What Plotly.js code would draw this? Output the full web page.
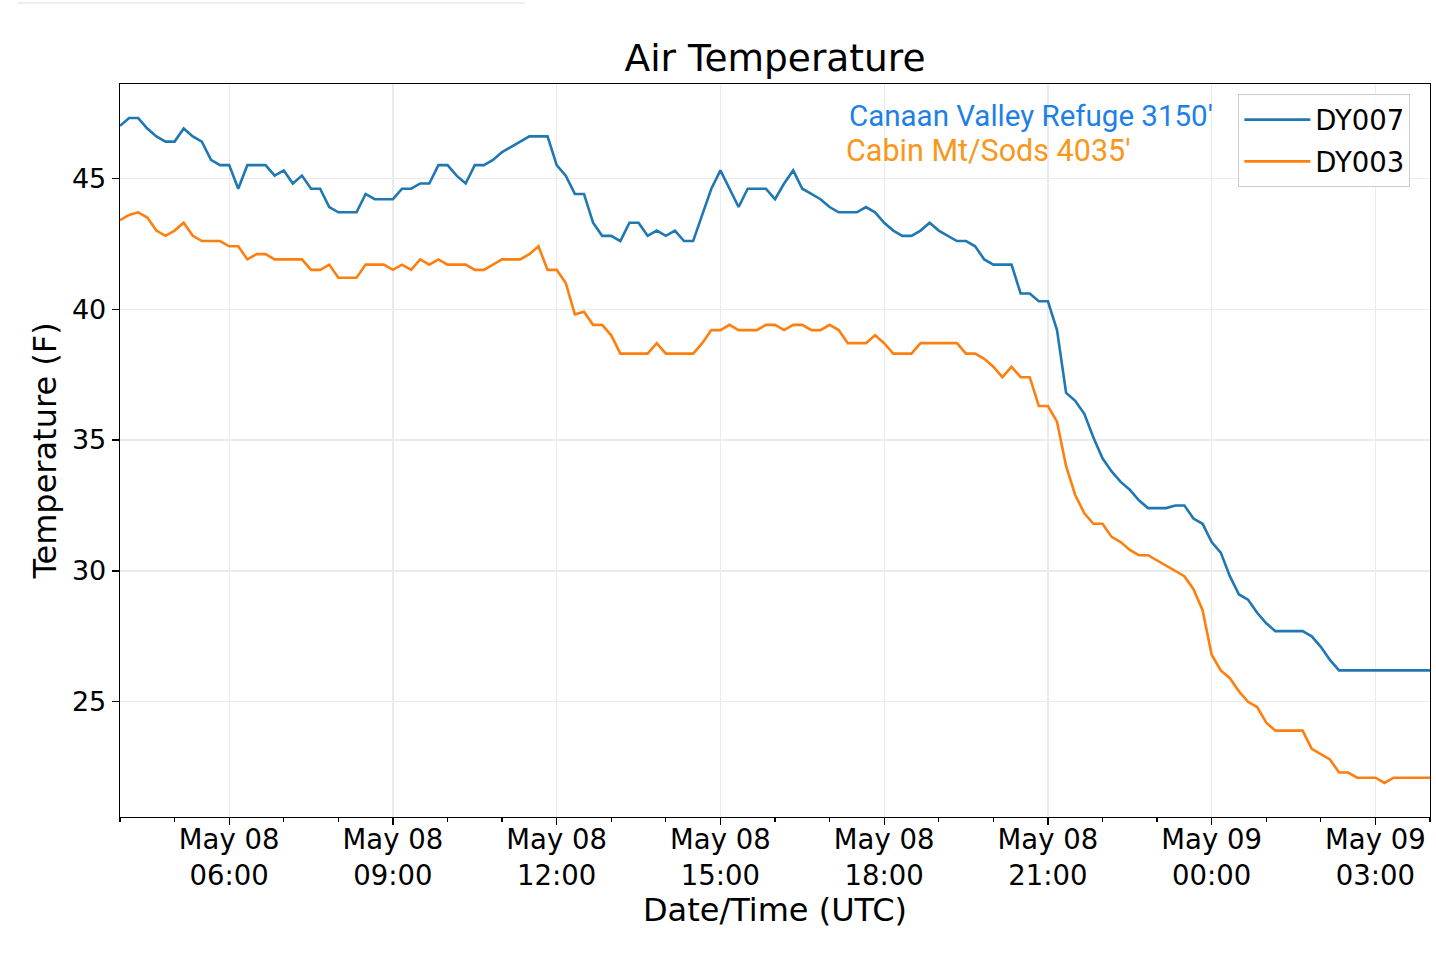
<!DOCTYPE html>
<html>
<head>
<meta charset="utf-8">
<script src="https://cdn.plot.ly/plotly-3.0.1.min.js"></script>
<style>
  html, body { margin: 0; padding: 0; background: #fff; }
  #graph { width: 1436px; height: 954px; }
</style>
</head>
<body>
<div id="graph"></div>
<script>
// 10-minute readings, 04:00 May 08 to 04:00 May 09 (UTC)
const startTime = '2020-05-08T04:00:00Z';
const stepMinutes = 10;

// DY007 - Canaan Valley Refuge 3150'
const dy007 = [
  47.0, 47.3, 47.3, 46.9, 46.6, 46.4, 46.4, 46.9, 46.6, 46.4, 45.7, 45.5,
  45.5, 44.6, 45.5, 45.5, 45.5, 45.1, 45.3, 44.8, 45.1, 44.6, 44.6, 43.9,
  43.7, 43.7, 43.7, 44.4, 44.2, 44.2, 44.2, 44.6, 44.6, 44.8, 44.8, 45.5,
  45.5, 45.1, 44.8, 45.5, 45.5, 45.7, 46.0, 46.2, 46.4, 46.6, 46.6, 46.6,
  45.5, 45.1, 44.4, 44.4, 43.3, 42.8, 42.8, 42.6, 43.3, 43.3, 42.8, 43.0,
  42.8, 43.0, 42.6, 42.6, 43.6, 44.6, 45.3, 44.6, 43.9, 44.6, 44.6, 44.6,
  44.2, 44.8, 45.3, 44.6, 44.4, 44.2, 43.9, 43.7, 43.7, 43.7, 43.9, 43.7,
  43.3, 43.0, 42.8, 42.8, 43.0, 43.3, 43.0, 42.8, 42.6, 42.6, 42.4, 41.9,
  41.7, 41.7, 41.7, 40.6, 40.6, 40.3, 40.3, 39.2, 36.8, 36.5, 36.0, 35.1,
  34.3, 33.8, 33.4, 33.1, 32.7, 32.4, 32.4, 32.4, 32.5, 32.5, 32.0, 31.8,
  31.1, 30.7, 29.8, 29.1, 28.9, 28.4, 28.0, 27.7, 27.7, 27.7, 27.7, 27.5,
  27.1, 26.6, 26.2, 26.2, 26.2, 26.2, 26.2, 26.2, 26.2, 26.2, 26.2, 26.2,
  26.2
];

// DY003 - Cabin Mt/Sods 4035'
const dy003 = [
  43.4, 43.6, 43.7, 43.5, 43.0, 42.8, 43.0, 43.3, 42.8, 42.6, 42.6, 42.6,
  42.4, 42.4, 41.9, 42.1, 42.1, 41.9, 41.9, 41.9, 41.9, 41.5, 41.5, 41.7,
  41.2, 41.2, 41.2, 41.7, 41.7, 41.7, 41.5, 41.7, 41.5, 41.9, 41.7, 41.9,
  41.7, 41.7, 41.7, 41.5, 41.5, 41.7, 41.9, 41.9, 41.9, 42.1, 42.4, 41.5,
  41.5, 41.0, 39.8, 39.9, 39.4, 39.4, 39.0, 38.3, 38.3, 38.3, 38.3, 38.7,
  38.3, 38.3, 38.3, 38.3, 38.7, 39.2, 39.2, 39.4, 39.2, 39.2, 39.2, 39.4,
  39.4, 39.2, 39.4, 39.4, 39.2, 39.2, 39.4, 39.2, 38.7, 38.7, 38.7, 39.0,
  38.7, 38.3, 38.3, 38.3, 38.7, 38.7, 38.7, 38.7, 38.7, 38.3, 38.3, 38.1,
  37.8, 37.4, 37.8, 37.4, 37.4, 36.3, 36.3, 35.7, 34.0, 32.9, 32.2, 31.8,
  31.8, 31.3, 31.1, 30.8, 30.6, 30.6, 30.4, 30.2, 30.0, 29.8, 29.3, 28.5,
  26.8, 26.2, 25.9, 25.4, 25.0, 24.8, 24.2, 23.9, 23.9, 23.9, 23.9, 23.2,
  23.0, 22.8, 22.3, 22.3, 22.1, 22.1, 22.1, 21.9, 22.1, 22.1, 22.1, 22.1,
  22.1
];

const xRange = ['2020-05-08 04:00', '2020-05-09 04:00'];
const tickTimes = [
  '2020-05-08 06:00', '2020-05-08 09:00', '2020-05-08 12:00', '2020-05-08 15:00',
  '2020-05-08 18:00', '2020-05-08 21:00', '2020-05-09 00:00', '2020-05-09 03:00'
];
const tickLabels = [
  'May 08<br>06:00', 'May 08<br>09:00', 'May 08<br>12:00', 'May 08<br>15:00',
  'May 08<br>18:00', 'May 08<br>21:00', 'May 09<br>00:00', 'May 09<br>03:00'
];
const yTicks = [25, 30, 35, 40, 45];

const pad = (n) => String(n).padStart(2, '0');
const t0 = Date.parse(startTime);
const times = dy007.map((_, i) => {
  const d = new Date(t0 + i * stepMinutes * 60000);
  return `${d.getUTCFullYear()}-${pad(d.getUTCMonth() + 1)}-${pad(d.getUTCDate())} ` +
    `${pad(d.getUTCHours())}:${pad(d.getUTCMinutes())}`;
});

const data = [
  {
    x: times,
    y: dy007,
    name: 'DY007',
    legendgroup: 'a',
    mode: 'lines',
    line: { color: '#1f77b4', width: 2.6 },
  },
  {
    x: times,
    y: dy003,
    name: 'DY003',
    legendgroup: 'b',
    mode: 'lines',
    line: { color: '#ff7f0e', width: 2.6 },
  },
];

const axisCommon = {
  ticks: 'outside',
  ticklen: 7,
  tickwidth: 1.2,
  tickcolor: '#000',
  showgrid: true,
  gridcolor: '#ebebeb',
  gridwidth: 1.2,
  showline: true,
  linecolor: '#000',
  linewidth: 1.3,
  mirror: true,
  zeroline: false,
  tickfont: { size: 27.5, color: '#000' },
};

const layout = {
  width: 1436,
  height: 954,
  margin: { l: 120, r: 6, t: 84, b: 137 },
  paper_bgcolor: '#fff',
  plot_bgcolor: '#fff',
  font: { family: 'DejaVu Sans', color: '#000' },
  showlegend: true,
  title: {
    text: 'Air Temperature',
    font: { size: 37.5, color: '#000' },
    xref: 'paper',
    x: 0.5,
    xanchor: 'center',
    yref: 'container',
    y: 0.939,
    yanchor: 'middle',
  },
  xaxis: Object.assign({}, axisCommon, {
    type: 'date',
    range: xRange,
    tickmode: 'array',
    tickvals: tickTimes,
    ticktext: tickLabels,
    ticklabelstandoff: -9,
    minor: {
      dtick: 3600000,
      tick0: xRange[0],
      ticks: 'outside',
      ticklen: 4,
      tickcolor: '#000',
      showgrid: false,
    },
    title: { text: 'Date/Time (UTC)', font: { size: 32, color: '#000' }, standoff: 2 },
  }),
  yaxis: Object.assign({}, axisCommon, {
    range: [20.6, 48.6],
    tickmode: 'array',
    tickvals: yTicks,
    tickfont: { size: 27, color: '#000' },
    title: { text: 'Temperature (F)', font: { size: 32, color: '#000' }, standoff: 5 },
  }),
  legend: {
    x: 0.985,
    y: 0.986,
    xanchor: 'right',
    yanchor: 'top',
    bgcolor: 'rgba(255,255,255,0.85)',
    bordercolor: '#cccccc',
    borderwidth: 1,
    traceorder: 'grouped',
    tracegroupgap: 3,
    itemwidth: 66,
    font: { size: 27.5, color: '#000' },
  },
  annotations: [
    {
      text: "Canaan Valley Refuge 3150'",
      xref: 'paper', yref: 'paper',
      x: 0.555, y: 0.956,
      xanchor: 'left', yanchor: 'middle',
      showarrow: false,
      font: { family: 'Roboto', size: 29.5, color: '#1e80e6' },
    },
    {
      text: "Cabin Mt/Sods 4035'",
      xref: 'paper', yref: 'paper',
      x: 0.553, y: 0.909,
      xanchor: 'left', yanchor: 'middle',
      showarrow: false,
      font: { family: 'Roboto', size: 30.5, color: '#f7981d' },
    },
  ],
  shapes: [
    {
      type: 'line',
      xref: 'paper', yref: 'paper',
      x0: -0.078, x1: 0.309, y0: 1.1105, y1: 1.1105,
      line: { color: '#eeeeee', width: 2 },
    },
  ],
};

Plotly.newPlot('graph', data, layout, { displayModeBar: false, staticPlot: true });
</script>
</body>
</html>
